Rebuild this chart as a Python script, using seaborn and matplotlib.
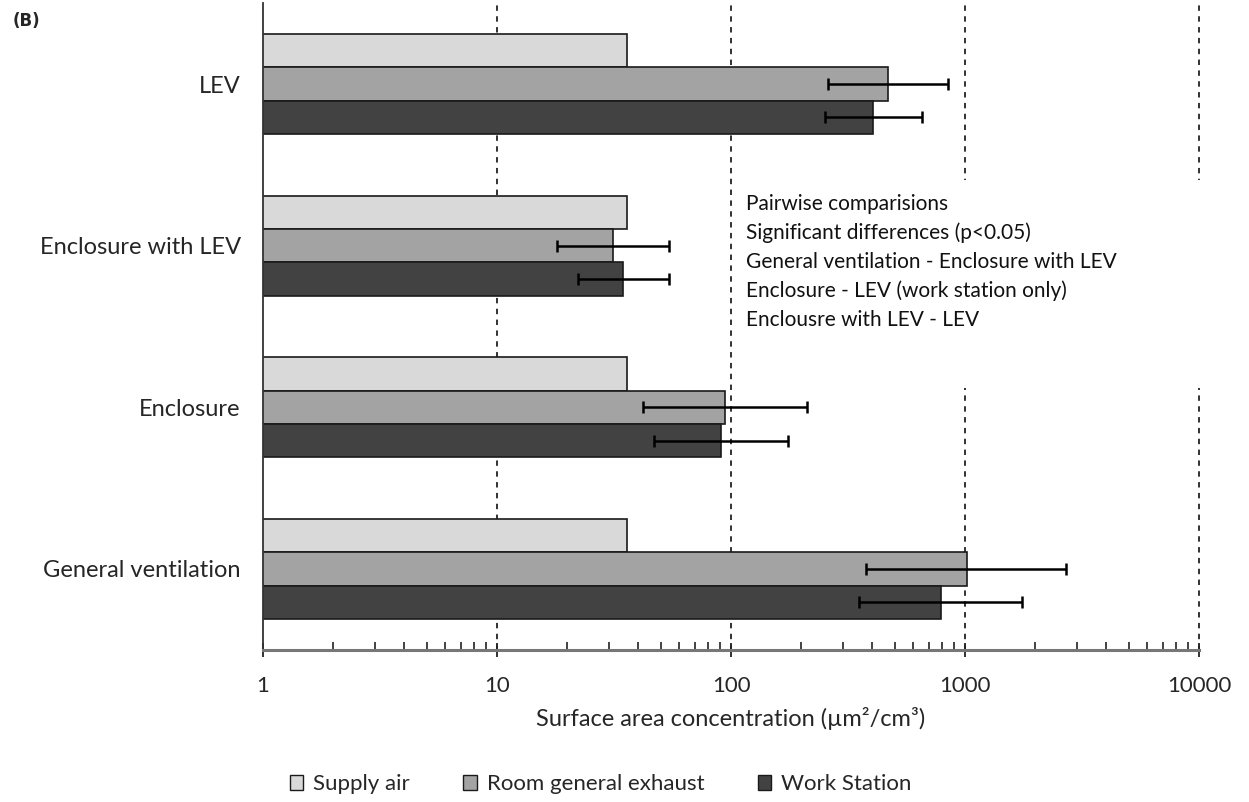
import numpy as np
import pandas as pd
import seaborn as sns
import matplotlib.pyplot as plt
from matplotlib.patches import Rectangle, Patch
from matplotlib.ticker import LogLocator, NullFormatter

categories = ["LEV", "Enclosure with LEV", "Enclosure", "General ventilation"]
series = ["Supply air", "Room general exhaust", "Work Station"]

supply_air = [36, 36, 36, 36]
room_exhaust = [469, 31.3, 94.3, 1020]
work_station = [404, 34.5, 90.6, 792]

# error bar ends (low, high)
room_lo = [260, 18.0, 42.1, 377]
room_hi = [846, 54.3, 211, 2710]
work_lo = [252, 22.2, 46.9, 352]
work_hi = [655, 54.3, 175, 1750]

notes = [
    "Pairwise comparisions",
    "Significant differences (p<0.05)",
    "General ventilation - Enclosure with LEV",
    "Enclosure - LEV (work station only)",
    "Enclousre with LEV - LEV",
]

colors = ["#d9d9d9", "#a3a3a3", "#424242"]

df = pd.DataFrame({
    "category": categories * 3,
    "series": np.repeat(series, 4),
    "value": supply_air + room_exhaust + work_station,
})

sns.set_style("white")
plt.rcParams["font.family"] = ["Lato", "DejaVu Sans"]

fig = plt.figure(figsize=(12.49, 8.02), dpi=100)
ax = fig.add_axes([0.2106, 0.190, 0.7494, 0.806])

sns.barplot(data=df, x="value", y="category", hue="series", order=categories,
            hue_order=series, palette=colors, width=0.62, edgecolor="#1a1a1a",
            linewidth=1.2, errorbar=None, orient="h", ax=ax, legend=False, zorder=2)

ax.set_xscale("log")
ax.set_xlim(1, 10000)
ax.set_ylim(3.5, -0.5)

# error bars for exhaust and work station
for cont, vals, lo, hi in [(ax.containers[1], room_exhaust, room_lo, room_hi),
                           (ax.containers[2], work_station, work_lo, work_hi)]:
    ys = [p.get_y() + p.get_height() / 2 for p in cont.patches]
    v = np.array(vals)
    err = [v - np.array(lo), np.array(hi) - v]
    ax.errorbar(v, ys, xerr=err, fmt="none", ecolor="black", elinewidth=1.8,
                capsize=4, capthick=1.8, zorder=4)

# dashed vertical grid
for gx in [10, 100, 1000, 10000]:
    ax.axvline(gx, color="#222222", linestyle=(0, (3, 3)), linewidth=1.3,
               zorder=1, clip_on=False)

# white box behind notes
ax.add_patch(Rectangle((0.505, 0.405), 0.52, 0.322, transform=ax.transAxes,
                       facecolor="white", edgecolor="none", zorder=1.5, clip_on=False))
for i, line in enumerate(notes):
    ax.text(0.516, 0.69 - i * 0.0449, line, transform=ax.transAxes, fontsize=15,
            va="center", ha="left", color="#111111", zorder=3)

for s in ["top", "right"]:
    ax.spines[s].set_visible(False)
ax.spines["left"].set_color("#333333")
ax.spines["left"].set_linewidth(1.3)
ax.spines["bottom"].set_color("#777777")
ax.spines["bottom"].set_linewidth(2.2)

ax.xaxis.set_minor_locator(LogLocator(base=10, subs=np.arange(2, 10)))
ax.xaxis.set_minor_formatter(NullFormatter())
ax.set_xticks([1, 10, 100, 1000, 10000])
ax.set_xticklabels(["1", "10", "100", "1000", "10000"])
ax.tick_params(axis="x", which="both", bottom=True)
ax.tick_params(axis="x", which="major", direction="inout", length=10, width=1.3,
               color="#222222", pad=14, labelsize=16)
ax.tick_params(axis="x", which="minor", direction="in", length=6, width=1.2,
               color="#222222")
ax.tick_params(axis="y", length=0, pad=16, labelsize=17)

ax.set_xlabel("Surface area concentration (µm²/cm³)", fontsize=17, labelpad=8)
ax.set_ylabel("")

fig.text(0.010, 0.968, "(B)", fontsize=12, fontweight="bold", family="DejaVu Sans")

handles = [Patch(facecolor=c, edgecolor="#1a1a1a", linewidth=1) for c in colors]
fig.legend(handles, series, loc="center", bbox_to_anchor=(0.481, 0.022), ncol=3,
           frameon=False, fontsize=16, handlelength=0.6, handleheight=0.6,
           handletextpad=0.45, columnspacing=2.4)

fig.savefig("out.png", dpi=100)
